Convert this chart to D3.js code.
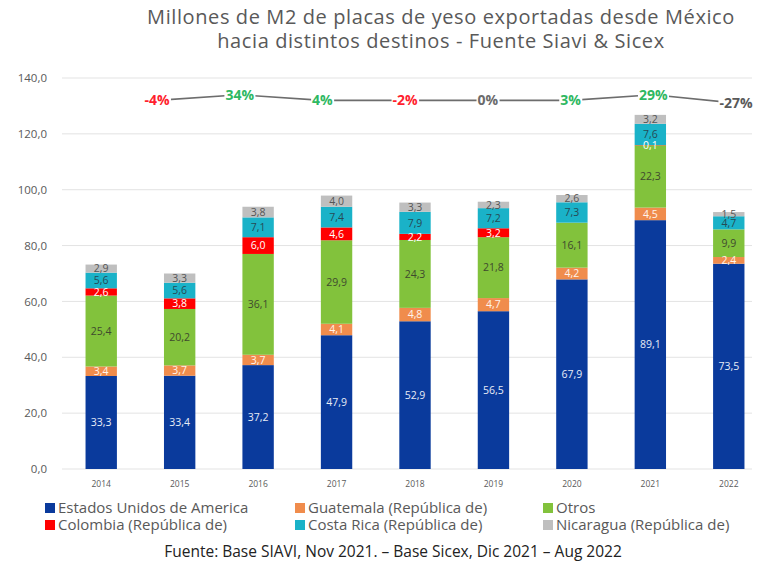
<!DOCTYPE html>
<html>
<head>
<meta charset="utf-8">
<script src="https://cdn.jsdelivr.net/npm/d3@7"></script>
<style>
  body { margin: 0; background: #fff; }
  text { font-family: "Open Sans", sans-serif; }
</style>
</head>
<body>
<div id="chart"></div>
<script>
let width = 761,
    height = 565,
    margin = ({ top: 78, right: 10, bottom: 96, left: 62 });

// data
const years = ["2014", "2015", "2016", "2017", "2018", "2019", "2020", "2021", "2022"];
const estadosUnidos = [33.3, 33.4, 37.2, 47.9, 52.9, 56.5, 67.9, 89.1, 73.5];
const guatemala = [3.4, 3.7, 3.7, 4.1, 4.8, 4.7, 4.2, 4.5, 2.4];
const otros = [25.4, 20.2, 36.1, 29.9, 24.3, 21.8, 16.1, 22.3, 9.9];
const colombia = [2.6, 3.8, 6.0, 4.6, 2.2, 3.2, 0, 0.1, 0];
const costaRica = [5.6, 5.6, 7.1, 7.4, 7.9, 7.2, 7.3, 7.6, 4.7];
const nicaragua = [2.9, 3.3, 3.8, 4.0, 3.3, 2.3, 2.6, 3.2, 1.5];
const seriesNames = ["Estados Unidos de America", "Guatemala (República de)", "Otros",
  "Colombia (República de)", "Costa Rica (República de)", "Nicaragua (República de)"];
const yTicks = [0, 20, 40, 60, 80, 100, 120, 140];

// variación anual (se dibuja como línea sobre las barras)
const growthYears = ["2015", "2016", "2017", "2018", "2019", "2020", "2021", "2022"];
const growthLabels = ["-4%", "34%", "4%", "-2%", "0%", "3%", "29%", "-27%"];
const growthLevel = [132, 134, 132, 132, 132, 132, 134, 131];

const colors = ["#0a3a9c", "#f08c4c", "#82c23c", "#ff0000", "#1ab2c8", "#bfbfbf"];
const labelColors = ["#e8ecf6", "#fff4ec", "#3f4a2e", "#fff", "#264a55", "#555"];
const growthColor = v => v.startsWith("-27") ? "#595959" : v.startsWith("-") ? "#ff1f2f" : v === "0%" ? "#6b6b6b" : "#2fb862";

const keys = ["usa", "gua", "otr", "col", "cri", "nic"];
const table = years.map((y, i) => ({
  year: y, usa: estadosUnidos[i], gua: guatemala[i], otr: otros[i],
  col: colombia[i], cri: costaRica[i], nic: nicaragua[i]
}));

const fmt = d => d3.format(".1f")(d).replace(".", ",");

const svg = d3.select("#chart")
  .append("svg")
  .attr("width", width)
  .attr("height", height);

let x = d3.scaleBand()
  .domain(years)
  .range([margin.left, 768])
  .paddingInner(0.6)
  .paddingOuter(0.3);

let y = d3.scaleLinear()
  .domain([0, 140])
  .range([height - margin.bottom, margin.top]);

// title
const titleLines = ["Millones de M2 de placas de yeso exportadas desde México",
  "hacia distintos destinos - Fuente Siavi & Sicex"];
svg.append("g")
  .selectAll("text")
  .data(titleLines)
  .join("text")
  .attr("x", 441)
  .attr("y", (d, i) => 24 + i * 24)
  .attr("text-anchor", "middle")
  .attr("font-size", 20)
  .attr("letter-spacing", 0.6)
  .attr("fill", "#595959")
  .text(d => d);

// grid + y axis
svg.append("g")
  .selectAll("line")
  .data(yTicks)
  .join("line")
  .attr("x1", margin.left).attr("x2", 752)
  .attr("y1", d => y(d)).attr("y2", d => y(d))
  .attr("stroke", "#e3e3e3");

svg.append("g")
  .attr("transform", `translate(${margin.left - 12},0)`)
  .call(d3.axisLeft(y).tickValues(yTicks).tickSize(0).tickFormat(fmt))
  .call(g => g.select(".domain").remove())
  .call(g => g.selectAll("text")
    .attr("font-family", "Open Sans, sans-serif")
    .attr("font-size", 11.5)
    .attr("fill", "#595959"));

svg.append("g")
  .attr("transform", `translate(0,${height - margin.bottom + 9})`)
  .call(d3.axisBottom(x).tickSize(0))
  .call(g => g.select(".domain").remove())
  .call(g => g.selectAll("text")
    .attr("font-family", "Open Sans, sans-serif")
    .attr("font-size", 8.5)
    .attr("fill", "#595959"));

// bars
let stacked = d3.stack().keys(keys)(table);

let layer = svg.append("g")
  .selectAll("g")
  .data(stacked)
  .join("g")
  .attr("fill", (d, i) => colors[i]);

layer.selectAll("rect")
  .data(d => d)
  .join("rect")
  .attr("x", d => x(d.data.year))
  .attr("width", x.bandwidth())
  .attr("y", d => y(d[1]))
  .attr("height", d => y(d[0]) - y(d[1]));

stacked.forEach((s, i) => {
  svg.append("g")
    .selectAll("text")
    .data(s.filter(d => d[1] - d[0] > 0))
    .join("text")
    .attr("x", d => x(d.data.year) + x.bandwidth() / 2)
    .attr("y", d => y((d[0] + d[1]) / 2))
    .attr("dy", "0.36em")
    .attr("text-anchor", "middle")
    .attr("font-family", "DejaVu Sans, Verdana, sans-serif")
    .attr("font-size", 10.5)
    .attr("fill", labelColors[i])
    .text(d => fmt(d[1] - d[0]));
});

// growth line
let xg = d3.scalePoint()
  .domain(growthYears)
  .range([157, 736]);

let line = d3.line()
  .x((d, i) => xg(growthYears[i]))
  .y(d => y(d));

svg.append("path")
  .datum(growthLevel)
  .attr("fill", "none")
  .attr("stroke", "#6d6d6d")
  .attr("stroke-width", 1.6)
  .attr("d", line);

let gl = svg.append("g")
  .selectAll("g")
  .data(growthLabels)
  .join("g")
  .attr("transform", (d, i) => `translate(${xg(growthYears[i])},${y(growthLevel[i])})`);

gl.append("text")
  .attr("text-anchor", "middle")
  .attr("dy", "0.36em")
  .attr("font-family", "DejaVu Sans, Verdana, sans-serif")
  .attr("font-weight", "bold")
  .attr("font-size", 14)
  .attr("fill", d => growthColor(d))
  .text(d => d)
  .each(function () {
    let b = this.getBBox();
    d3.select(this.parentNode).insert("rect", "text")
      .attr("x", b.x - 1).attr("y", b.y + 3)
      .attr("width", b.width + 2).attr("height", b.height - 6)
      .attr("fill", "#fff");
  });

// legend
let legend = svg.append("g")
  .selectAll("g")
  .data(seriesNames)
  .join("g")
  .attr("transform", (d, i) => `translate(${[45, 295, 543][i % 3]},${i < 3 ? 508 : 525})`);

legend.append("rect")
  .attr("y", -5).attr("width", 10).attr("height", 10)
  .attr("fill", (d, i) => colors[i]);

legend.append("text")
  .attr("x", 13)
  .attr("dy", "0.36em")
  .attr("font-size", 15)
  .attr("fill", "#595959")
  .text(d => d);

// footer
svg.append("text")
  .attr("x", 393).attr("y", 557)
  .attr("text-anchor", "middle")
  .attr("font-size", 15.5)
  .attr("fill", "#222")
  .text("Fuente: Base SIAVI, Nov 2021. – Base Sicex, Dic 2021 – Aug 2022");
</script>
</body>
</html>
